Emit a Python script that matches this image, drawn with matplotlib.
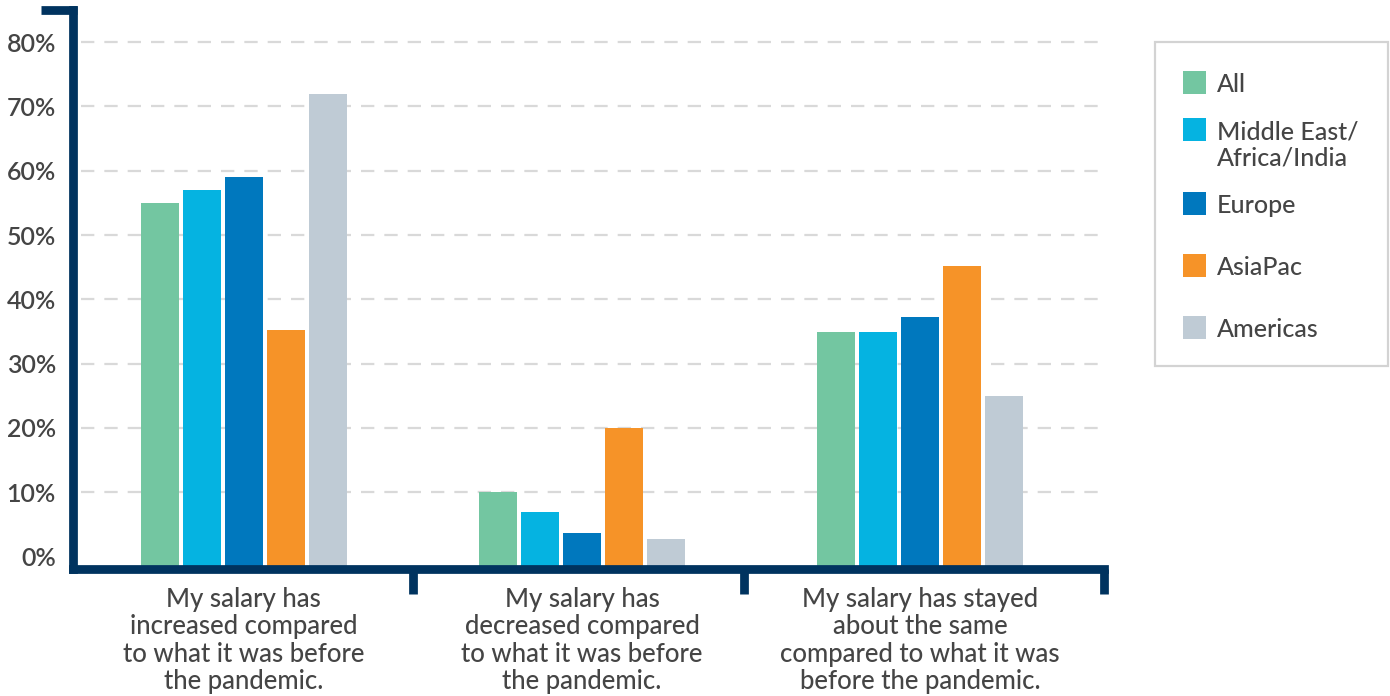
import matplotlib
matplotlib.use("Agg")
import matplotlib.pyplot as plt
from matplotlib.lines import Line2D
from matplotlib.patches import Rectangle
import numpy as np

# --- data -------------------------------------------------------------
categories = [
    "My salary has\nincreased compared\nto what it was before\nthe pandemic.",
    "My salary has\ndecreased compared\nto what it was before\nthe pandemic.",
    "My salary has stayed\nabout the same\ncompared to what it was\nbefore the pandemic.",
]
regions = ["All", "Middle East/\nAfrica/India", "Europe", "AsiaPac", "Americas"]
all_vals = [55, 10, 35]
meai_vals = [57, 7, 35]
europe_vals = [59, 3.6, 37.3]
asiapac_vals = [35.3, 20, 45.2]
americas_vals = [72, 2.7, 25]
y_ticks = [0, 10, 20, 30, 40, 50, 60, 70, 80]
y_tick_labels = ["0%", "10%", "20%", "30%", "40%", "50%", "60%", "70%", "80%"]

colors = ["#73C6A1", "#05B3E1", "#0078BE", "#F69328", "#BFCBD5"]
navy = "#00335F"
text_color = "#454545"
series = [all_vals, meai_vals, europe_vals, asiapac_vals, americas_vals]

W, H = 1390, 696
plt.rcParams["font.family"] = ["Lato", "DejaVu Sans"]

fig = plt.figure(figsize=(W / 100, H / 100), dpi=100)

def fx(px):
    return px / W

def fy(py):
    return 1 - py / H

ax = fig.add_axes([fx(72.5), fy(569), fx(1104) - fx(72.5), fy(10) - fy(569)])

y_lo, y_hi = -1.93, 85.0
ax.set_ylim(y_lo, y_hi)
ax.set_xlim(-0.507, 2.544)

x = np.arange(len(categories))
pitch = 0.1243
width = 0.1124
for i, (vals, c) in enumerate(zip(series, colors)):
    vals = np.asarray(vals, dtype=float)
    ax.bar(x + (i - 2) * pitch, vals - y_lo, bottom=y_lo, width=width,
           color=c, zorder=2, linewidth=0)

# gridlines
ax.set_yticks(y_ticks)
ax.set_yticklabels(y_tick_labels)
for yv in y_ticks[1:]:
    ax.axhline(yv, xmin=0.008, xmax=0.995, color="#D9D9D9", lw=1.6,
               dashes=(6, 4.5), zorder=1)

# spines
for s in ["top", "right"]:
    ax.spines[s].set_visible(False)
for s in ["left", "bottom"]:
    ax.spines[s].set_color(navy)
    ax.spines[s].set_linewidth(6.3)
    ax.spines[s].set_capstyle("projecting")

ax.tick_params(axis="y", length=0, pad=12, labelsize=18, labelcolor=text_color)
for t in ax.get_yticklabels():
    t.set_fontweight("semibold")

ax.set_xticks(x)
ax.set_xticklabels(categories, fontsize=18.5, color=text_color,
                   linespacing=1.12, fontweight="medium")
ax.tick_params(axis="x", which="major", length=0, pad=13)
ax.set_xticks([0.5, 1.48, 2.544], minor=True)
ax.tick_params(axis="x", which="minor", length=18, width=6.3,
               color=navy, direction="out")

# cap at the top of the value axis
fig.add_artist(Line2D([fx(41), fx(77)], [fy(10), fy(10)], color=navy,
                      lw=6.3, solid_capstyle="butt"))

# legend
fig.add_artist(Rectangle((fx(1155), fy(366)), fx(1388) - fx(1155),
                         fy(42) - fy(366), transform=fig.transFigure,
                         facecolor="white", edgecolor="#D3D3D3", lw=1.6))
entry_y = [82, 129, 203, 265, 327]
sq = 23
for lab, c, yy in zip(regions, colors, entry_y):
    fig.add_artist(Rectangle((fx(1183), fy(yy + sq / 2)), sq / W, sq / H,
                             transform=fig.transFigure, facecolor=c,
                             edgecolor="none"))
    fig.text(fx(1217), fy(yy - 9), lab, fontsize=18, color=text_color,
             va="top", ha="left", linespacing=1.2, fontweight="medium")

fig.savefig("out.png", dpi=100)
